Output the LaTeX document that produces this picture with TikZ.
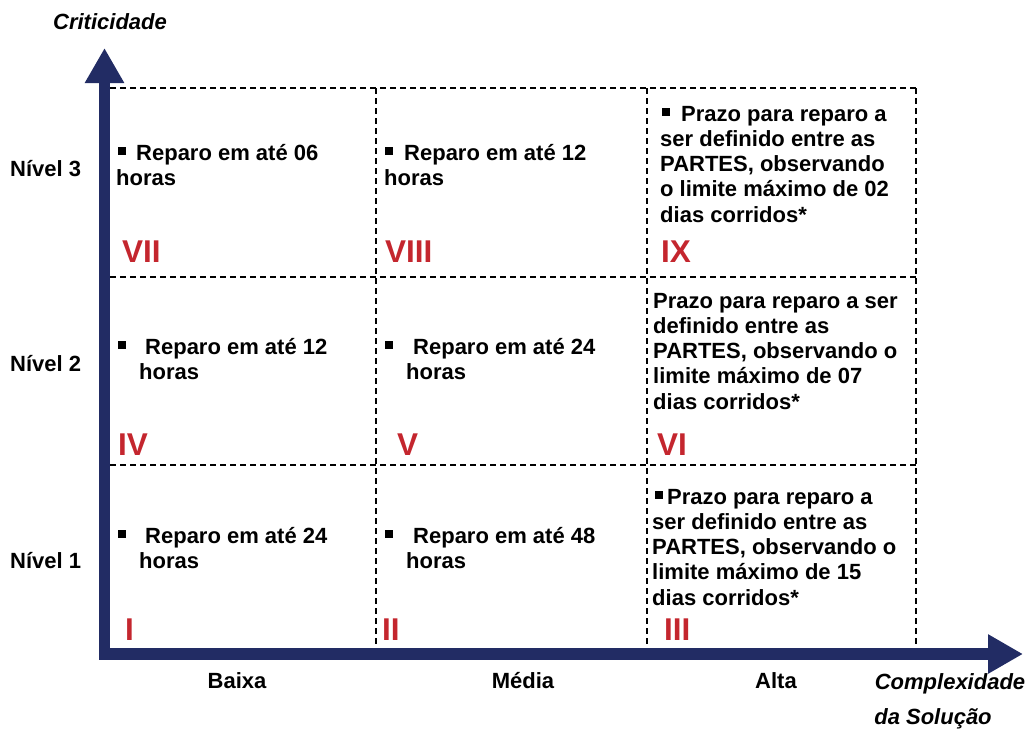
\documentclass[tikz,border=0pt]{standalone}
\usepackage{fontspec}
\setmainfont{Liberation Sans}
\usetikzlibrary{arrows.meta}
\definecolor{axisblue}{HTML}{222C64}
\definecolor{numred}{HTML}{C4262E}
\newcommand{\bul}{\rule[5.5pt]{8pt}{8pt}}
\newcommand{\celltxt}[1]{\begin{tabular}[t]{@{}l@{}}#1\end{tabular}}
\begin{document}
\begin{tikzpicture}[x=1pt,y=-1pt,
  txt/.style={anchor=base west,inner sep=0pt,font=\fontsize{22}{25.3}\selectfont\bfseries},
  lbl/.style={anchor=base,inner sep=0pt,font=\fontsize{22}{25}\selectfont\bfseries},
  axlbl/.style={anchor=base,inner sep=0pt,font=\fontsize{22}{25}\selectfont\bfseries\itshape},
  roman/.style={anchor=base west,inner sep=0pt,text=numred,font=\fontsize{31.5}{31}\selectfont\bfseries},
  grid/.style={black,line width=1.3pt,dash pattern=on 6pt off 4pt},
  axis/.style={axisblue,line width=11.5pt,{Triangle[length=35pt,width=37pt]}-{Triangle[length=35pt,width=37pt]}}]
\useasboundingbox (0,0) rectangle (1027,729);
% grid
\draw[grid] (110,88) -- (916,88);
\draw[grid] (110,277) -- (916,277);
\draw[grid] (110,465) -- (916,465);
\draw[grid] (376,88) -- (376,648);
\draw[grid] (647,88) -- (647,648);
\draw[grid] (916,88) -- (916,648);
% axes
\coordinate (YT) at (104.5,48);
\coordinate (O) at (104.5,654);
\coordinate (XT) at (1023,654);
\draw[axis] (YT) -- (O) -- (XT);
% axis labels
\node[axlbl] (crit) at (110,29) {Criticidade};
\node[axlbl] (comp1) at (950,689) {Complexidade};
\node[axlbl] (comp2) at (933,724) {da Solução};
\node[txt] (n3) at (10,176) {Nível 3};
\node[txt] (n2) at (10,371) {Nível 2};
\node[txt] (n1) at (10,568) {Nível 1};
\node[lbl] (baixa) at (237,688) {Baixa};
\node[lbl] (media) at (523,688) {Média};
\node[lbl] (alta) at (776,688) {Alta};
% row 3
\node[txt] (c7) at (116,160) {\celltxt{\hspace*{2pt}\bul\hspace*{10pt}Reparo em até 06\\horas}};
\node[txt] (c8) at (384,160) {\celltxt{\hspace*{1pt}\bul\hspace*{11pt}Reparo em até 12\\horas}};
\node[txt] (c9) at (660,121) {\celltxt{\hspace*{2pt}\bul\hspace*{11pt}Prazo para reparo a\\ser definido entre as\\PARTES, observando\\o limite máximo de 02\\dias corridos*}};
\node[roman] (r7) at (122,262) {VII};
\node[roman] (r8) at (385,262) {VIII};
\node[roman] (r9) at (661,262) {IX};
% row 2
\node[txt] (c4) at (118,354) {\celltxt{\bul\hspace*{19pt}Reparo em até 12\\\hspace*{21pt}horas}};
\node[txt] (c5) at (385,354) {\celltxt{\bul\hspace*{20pt}Reparo em até 24\\\hspace*{21pt}horas}};
\node[txt] (c6) at (653,308) {\celltxt{Prazo para reparo a ser\\definido entre as\\PARTES, observando o\\limite máximo de 07\\dias corridos*}};
\node[roman] (r4) at (118,455) {IV};
\node[roman] (r5) at (397,455) {V};
\node[roman] (r6) at (657,455) {VI};
% row 1
\node[txt] (c1) at (118,543) {\celltxt{\bul\hspace*{19pt}Reparo em até 24\\\hspace*{21pt}horas}};
\node[txt] (c2) at (385,543) {\celltxt{\bul\hspace*{20pt}Reparo em até 48\\\hspace*{21pt}horas}};
\node[txt] (c3) at (652,504) {\celltxt{\hspace*{3pt}\bul\hspace*{4pt}Prazo para reparo a\\ser definido entre as\\PARTES, observando o\\limite máximo de 15\\dias corridos*}};
\node[roman] (r1) at (125,640) {I};
\node[roman] (r2) at (382,640) {II};
\node[roman] (r3) at (664,640) {III};
\end{tikzpicture}
\end{document}
